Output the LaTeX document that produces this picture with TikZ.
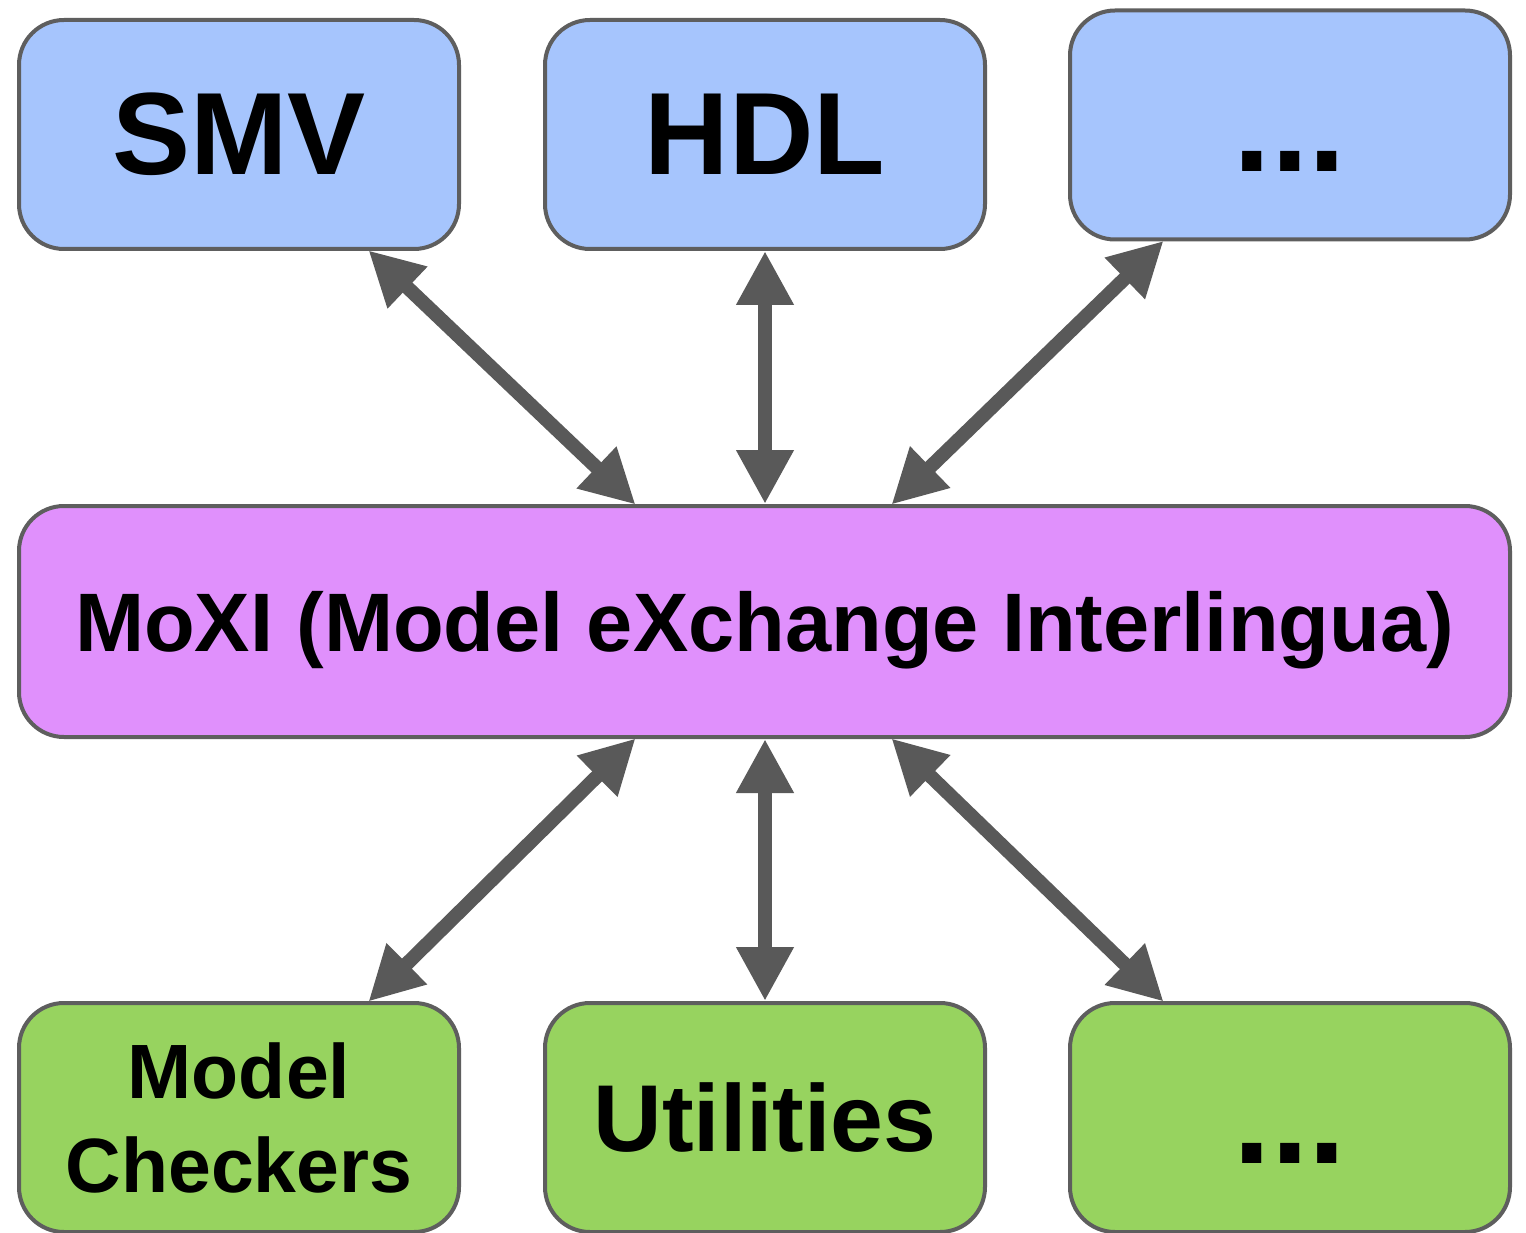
\documentclass[tikz,border=0pt]{standalone}
\usepackage{fontspec}
\setmainfont{Liberation Sans}
\usetikzlibrary{arrows.meta,calc}
\definecolor{boxblue}{HTML}{A6C5FD}
\definecolor{boxpurple}{HTML}{E090FC}
\definecolor{boxgreen}{HTML}{97D35F}
\definecolor{edgegray}{HTML}{5E5E5E}
\definecolor{arrowgray}{HTML}{595959}
\begin{document}
\begin{tikzpicture}[x=1pt,y=-1pt,
  box/.style={draw=edgegray, line width=4pt, rounded corners=45pt, minimum width=440pt,
    minimum height=229pt, inner sep=0pt, outer sep=0pt, align=center, font=\bfseries},
  topbox/.style={box, fill=boxblue},
  midbox/.style={box, fill=boxpurple, minimum width=1491pt, minimum height=231pt},
  botbox/.style={box, fill=boxgreen},
  conn/.style={arrowgray, line width=14pt, {Triangle[length=54pt,width=54pt]}-{Triangle[length=54pt,width=54pt]},
    shorten <=2pt, shorten >=2pt}
]
\useasboundingbox (0,0) rectangle (1526,1233);
\fill[white] (0,0) rectangle (1526,1233);

\node[topbox, font=\bfseries\fontsize{117}{117}\selectfont] (smv) at (239,134.5) {SMV};
\node[topbox, font=\bfseries\fontsize{117}{117}\selectfont] (hdl) at (765,134.5) {HDL};
\node[topbox, font=\bfseries\fontsize{135}{135}\selectfont] (tdots) at (1290,125) {\vphantom{H}...};

\node[midbox, font=\bfseries\fontsize{83}{83}\selectfont, text height=59pt, text depth=0pt] (moxi) at (764.5,621.5) {MoXI (Model eXchange Interlingua)};

\node[botbox, font=\bfseries\fontsize{77}{94}\selectfont] (mc) at (239,1117.5) {Model\\Checkers};
\node[botbox, font=\bfseries\fontsize{95}{95}\selectfont] (util) at (765,1117.5) {Utilities};
\node[botbox, font=\bfseries\fontsize{135}{135}\selectfont] (bdots) at (1290,1117.5) {\vphantom{H}...};

\draw[conn] ([xshift=128pt]smv.south) -- ([xshift=-127.5pt]moxi.north);
\draw[conn] (hdl.south) -- (moxi.north -| hdl.south);
\draw[conn] ([xshift=-125pt]tdots.south) -- ([xshift=125.5pt]moxi.north);

\draw[conn] ([xshift=-127.5pt]moxi.south) -- ([xshift=128pt]mc.north);
\draw[conn] (moxi.south -| util.north) -- (util.north);
\draw[conn] ([xshift=125.5pt]moxi.south) -- ([xshift=-125pt]bdots.north);
\end{tikzpicture}
\end{document}
